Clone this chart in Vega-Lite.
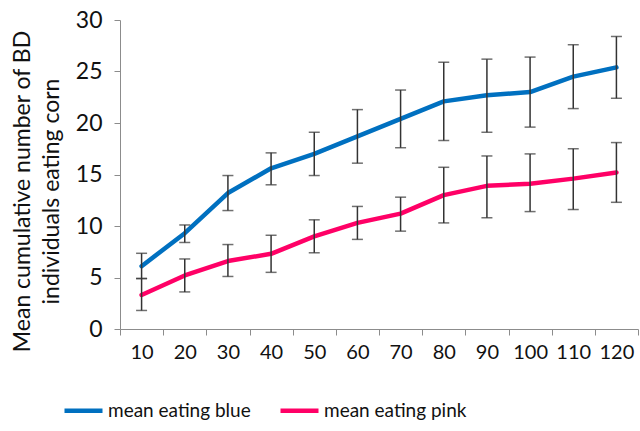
{
  "$schema": "https://vega.github.io/schema/vega-lite/v6.json",
  "autosize": "none",
  "width": 518,
  "height": 309,
  "padding": {"left": 120, "top": 20, "right": 2, "bottom": 102},
  "background": "white",
  "config": {
    "font": "Lato",
    "view": {"stroke": null},
    "axis": {"grid": false, "domainColor": "#8c8c8c", "tickColor": "#8c8c8c", "labelColor": "#111", "titleColor": "#111", "labelFont": "Lato", "titleFont": "Lato"}
  },
  "data": {
    "values": [
      {"t": "10", "series": "mean eating blue", "mean": 6.1, "lo": 4.9, "hi": 7.35},
      {"t": "20", "series": "mean eating blue", "mean": 9.3, "lo": 8.4, "hi": 10.1},
      {"t": "30", "series": "mean eating blue", "mean": 13.2, "lo": 11.5, "hi": 14.9},
      {"t": "40", "series": "mean eating blue", "mean": 15.6, "lo": 14.0, "hi": 17.1},
      {"t": "50", "series": "mean eating blue", "mean": 17.0, "lo": 14.9, "hi": 19.1},
      {"t": "60", "series": "mean eating blue", "mean": 18.7, "lo": 16.1, "hi": 21.3},
      {"t": "70", "series": "mean eating blue", "mean": 20.4, "lo": 17.6, "hi": 23.2},
      {"t": "80", "series": "mean eating blue", "mean": 22.1, "lo": 18.3, "hi": 25.9},
      {"t": "90", "series": "mean eating blue", "mean": 22.7, "lo": 19.1, "hi": 26.2},
      {"t": "100", "series": "mean eating blue", "mean": 23.0, "lo": 19.6, "hi": 26.4},
      {"t": "110", "series": "mean eating blue", "mean": 24.5, "lo": 21.4, "hi": 27.6},
      {"t": "120", "series": "mean eating blue", "mean": 25.4, "lo": 22.4, "hi": 28.4},
      {"t": "10", "series": "mean eating pink", "mean": 3.3, "lo": 1.8, "hi": 4.9},
      {"t": "20", "series": "mean eating pink", "mean": 5.2, "lo": 3.6, "hi": 6.8},
      {"t": "30", "series": "mean eating pink", "mean": 6.6, "lo": 5.1, "hi": 8.2},
      {"t": "40", "series": "mean eating pink", "mean": 7.3, "lo": 5.5, "hi": 9.1},
      {"t": "50", "series": "mean eating pink", "mean": 9.0, "lo": 7.4, "hi": 10.6},
      {"t": "60", "series": "mean eating pink", "mean": 10.3, "lo": 8.7, "hi": 11.9},
      {"t": "70", "series": "mean eating pink", "mean": 11.2, "lo": 9.5, "hi": 12.8},
      {"t": "80", "series": "mean eating pink", "mean": 13.0, "lo": 10.3, "hi": 15.7},
      {"t": "90", "series": "mean eating pink", "mean": 13.9, "lo": 10.8, "hi": 16.8},
      {"t": "100", "series": "mean eating pink", "mean": 14.1, "lo": 11.4, "hi": 17.0},
      {"t": "110", "series": "mean eating pink", "mean": 14.6, "lo": 11.6, "hi": 17.5},
      {"t": "120", "series": "mean eating pink", "mean": 15.2, "lo": 12.3, "hi": 18.1}
    ]
  },
  "encoding": {
    "x": {
      "field": "t", "type": "ordinal", "sort": null,
      "scale": {"paddingInner": 0, "paddingOuter": 0},
      "axis": {"title": null, "labelAngle": 0, "labelFontSize": 20, "tickBand": "extent", "tickSize": 6, "labelPadding": 7}
    }
  },
  "layer": [
    {
      "mark": {"type": "line", "strokeWidth": 4.5, "strokeCap": "round", "strokeJoin": "round"},
      "encoding": {
        "y": {
          "field": "mean", "type": "quantitative",
          "scale": {"domain": [0, 30], "nice": false},
          "axis": {"values": [0, 5, 10, 15, 20, 25, 30], "labelFontSize": 23, "tickSize": 6, "labelPadding": 12,
                   "title": ["Mean cumulative number of BD", "individuals eating corn"], "titleFontSize": 23, "titleFontWeight": "normal", "titlePadding": 12, "titleLineHeight": 29, "titleY": 171}
        },
        "color": {
          "field": "series", "type": "nominal",
          "scale": {"domain": ["mean eating blue", "mean eating pink"], "range": ["#0070C0", "#FF0066"]},
          "legend": {"title": null, "orient": "none", "direction": "horizontal", "legendX": -58, "legendY": 369,
                     "symbolType": "stroke", "symbolSize": 1444, "symbolStrokeWidth": 4.5, "labelFontSize": 19, "labelColor": "#111", "columnPadding": 20, "labelOffset": 3}
        }
      }
    },
    {
      "mark": {"type": "rule", "color": "#333", "strokeWidth": 1.5},
      "encoding": {"y": {"field": "lo", "type": "quantitative"}, "y2": {"field": "hi"}}
    },
    {
      "mark": {"type": "tick", "color": "#333", "thickness": 1.5, "size": 11},
      "encoding": {"y": {"field": "lo", "type": "quantitative"}}
    },
    {
      "mark": {"type": "tick", "color": "#333", "thickness": 1.5, "size": 11},
      "encoding": {"y": {"field": "hi", "type": "quantitative"}}
    }
  ]
}
